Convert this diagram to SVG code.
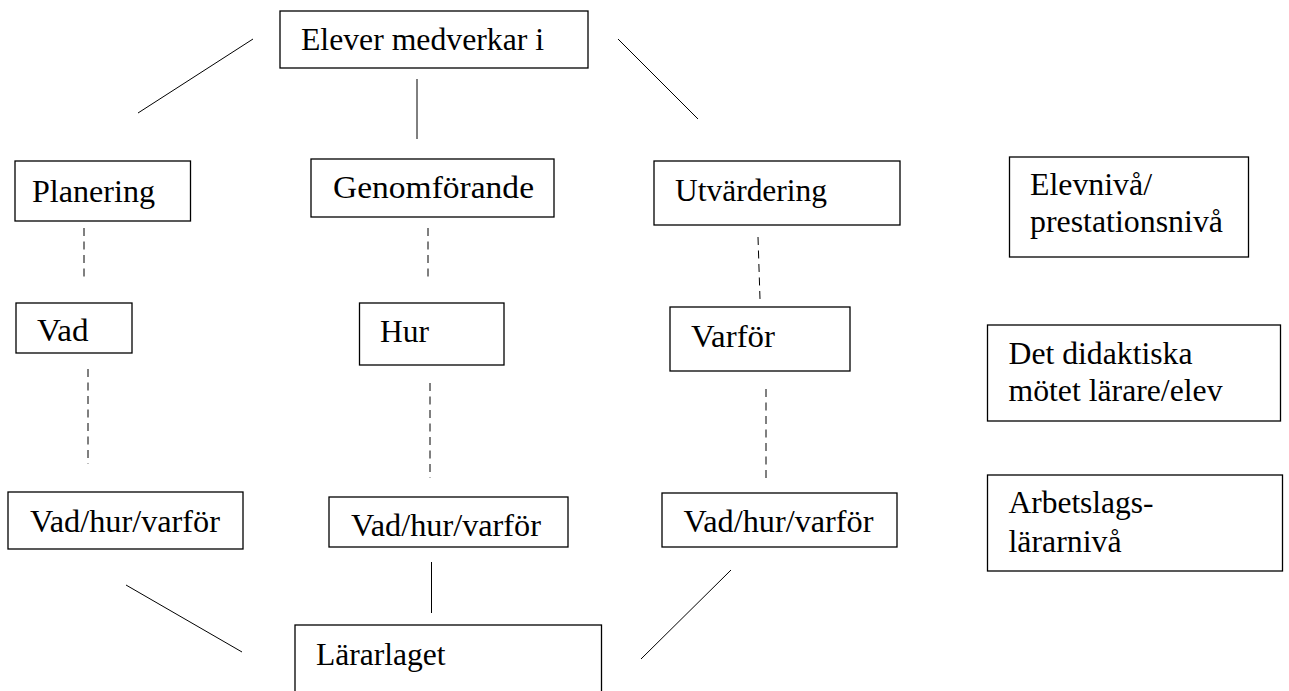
<svg xmlns="http://www.w3.org/2000/svg" width="1289" height="691" viewBox="0 0 1289 691">
<style>
.box{fill:#fff;stroke:#000;stroke-width:1.3}
.t{font-family:"Liberation Serif","Times New Roman",serif;font-size:32px;fill:#000}
.ln{stroke:#000;stroke-width:1;fill:none}
.dash{stroke:#000;stroke-width:1;fill:none;stroke-dasharray:8 5.5}
</style>
<rect width="1289" height="691" fill="#fff"/>
<g id="connectors">
<line class="ln" x1="253" y1="39" x2="138" y2="113"/>
<line class="ln" x1="417" y1="79" x2="417" y2="139"/>
<line class="ln" x1="618" y1="39" x2="698" y2="119"/>
<line class="dash" x1="84" y1="228" x2="84" y2="279"/>
<line class="dash" x1="428" y1="228" x2="428" y2="279"/>
<line class="dash" x1="758" y1="237" x2="760" y2="299"/>
<line class="dash" x1="88" y1="369" x2="88" y2="464"/>
<line class="dash" x1="430" y1="383" x2="430" y2="478"/>
<line class="dash" x1="766" y1="389" x2="766" y2="481"/>
<line class="ln" x1="431.5" y1="562" x2="431.5" y2="613"/>
<line class="ln" x1="126" y1="585" x2="242" y2="652"/>
<line class="ln" x1="731" y1="570" x2="641" y2="659"/>
</g>
<g id="elever">
<rect class="box" x="280" y="11" width="308" height="57"/>
<text class="t" x="301" y="50" textLength="243" lengthAdjust="spacingAndGlyphs">Elever medverkar i</text>
</g>
<g id="planering">
<rect class="box" x="15" y="161" width="175.5" height="60"/>
<text class="t" x="32" y="202" textLength="123" lengthAdjust="spacingAndGlyphs">Planering</text>
</g>
<g id="genomforande">
<rect class="box" x="311" y="159" width="243" height="58"/>
<text class="t" x="333" y="198" textLength="201" lengthAdjust="spacingAndGlyphs">Genomförande</text>
</g>
<g id="utvardering">
<rect class="box" x="654" y="161" width="246" height="64"/>
<text class="t" x="675" y="201" textLength="152" lengthAdjust="spacingAndGlyphs">Utvärdering</text>
</g>
<g id="vad">
<rect class="box" x="16" y="303" width="116" height="50"/>
<text class="t" x="37" y="341" textLength="51.5" lengthAdjust="spacingAndGlyphs">Vad</text>
</g>
<g id="hur">
<rect class="box" x="359.5" y="303" width="144.5" height="62"/>
<text class="t" x="380" y="342" textLength="49" lengthAdjust="spacingAndGlyphs">Hur</text>
</g>
<g id="varfor">
<rect class="box" x="670" y="307" width="180" height="64"/>
<text class="t" x="691" y="347" textLength="84" lengthAdjust="spacingAndGlyphs">Varför</text>
</g>
<g id="vhv1">
<rect class="box" x="8" y="492" width="235" height="57"/>
<text class="t" x="30" y="532" textLength="190" lengthAdjust="spacingAndGlyphs">Vad/hur/varför</text>
</g>
<g id="vhv2">
<rect class="box" x="329" y="497" width="239" height="50"/>
<text class="t" x="351" y="536" textLength="190" lengthAdjust="spacingAndGlyphs">Vad/hur/varför</text>
</g>
<g id="vhv3">
<rect class="box" x="662" y="493" width="235" height="54"/>
<text class="t" x="683.5" y="532" textLength="190" lengthAdjust="spacingAndGlyphs">Vad/hur/varför</text>
</g>
<g id="lararlaget">
<rect class="box" x="295" y="625" width="306.5" height="80"/>
<text class="t" x="316" y="665" textLength="129.5" lengthAdjust="spacingAndGlyphs">Lärarlaget</text>
</g>
<g id="elevniva">
<rect class="box" x="1009.5" y="157" width="239" height="100"/>
<text class="t" x="1030" y="195" textLength="122" lengthAdjust="spacingAndGlyphs">Elevnivå/</text>
<text class="t" x="1030" y="232" textLength="193" lengthAdjust="spacingAndGlyphs">prestationsnivå</text>
</g>
<g id="didaktiska">
<rect class="box" x="987.5" y="325" width="293" height="96"/>
<text class="t" x="1008.5" y="364" textLength="184" lengthAdjust="spacingAndGlyphs">Det didaktiska</text>
<text class="t" x="1008.5" y="401" textLength="214" lengthAdjust="spacingAndGlyphs">mötet lärare/elev</text>
</g>
<g id="arbetslag">
<rect class="box" x="987.5" y="475" width="295" height="96"/>
<text class="t" x="1008.5" y="513" textLength="145" lengthAdjust="spacingAndGlyphs">Arbetslags-</text>
<text class="t" x="1008.5" y="552" textLength="113" lengthAdjust="spacingAndGlyphs">lärarnivå</text>
</g>
</svg>
